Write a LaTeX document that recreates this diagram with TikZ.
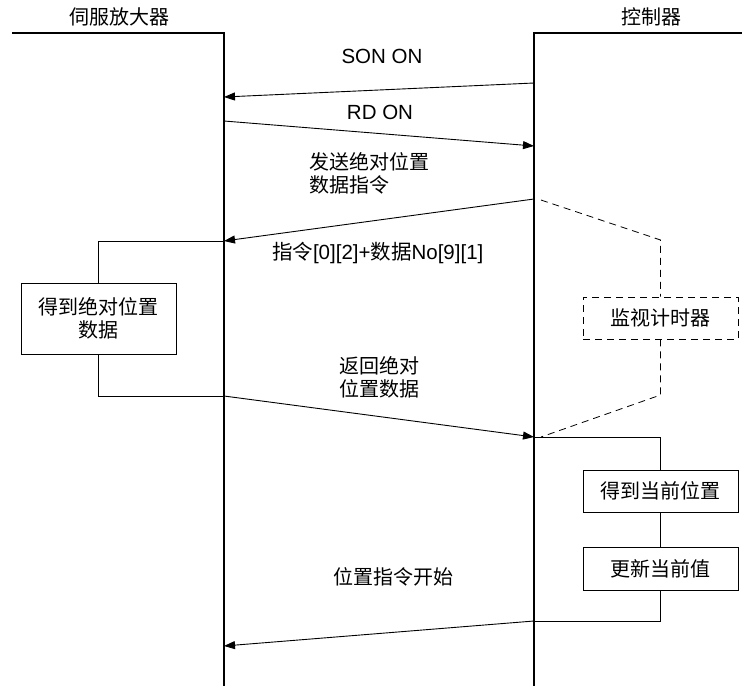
\documentclass[tikz,border=0pt]{standalone}
\usepackage{fontspec}
\setmainfont{Liberation Sans}
\newfontfamily\cjk{Noto Sans CJK SC}
\usetikzlibrary{arrows.meta}

\begin{document}
\begin{tikzpicture}[x=1pt,y=-1pt,
    every node/.style={font=\fontsize{20.5}{23}\selectfont},
    cn/.style={font=\cjk\fontsize{20}{22.5}\selectfont},
    life/.style={line width=1.1pt},
    msg/.style={line width=0.9pt, -{Triangle[length=11pt,width=8pt]}},
    stepbox/.style={draw, line width=1pt, cn, align=center, minimum width=155pt},
    watch/.style={line width=0.8pt, dash pattern=on 7pt off 5pt}]
    \useasboundingbox (0,0) rectangle (742,686);

    % lifelines
    \node[cn] (servo) at (119,17) {伺服放大器};
    \node[cn] (ctrl) at (651,17) {控制器};
    \draw[life] (12,33) -- (224,33) -- (224,686);
    \draw[life] (742,33) -- (534,33) -- (534,686);

    \coordinate (c1) at (534,83);  \coordinate (s1) at (224,97);
    \coordinate (s2) at (224,121); \coordinate (c2) at (534,146);
    \coordinate (c3) at (534,199); \coordinate (s3) at (224,241);
    \coordinate (s4) at (224,396); \coordinate (c4) at (534,437);
    \coordinate (c5) at (534,621); \coordinate (s5) at (224,646);

    % messages
    \draw[msg] (c1) -- (s1);
    \node (son) at (382,56) {SON ON};
    \draw[msg] (s2) -- (c2);
    \node (rdon) at (380,112) {RD ON};
    \draw[msg] (c3) -- (s3);
    \node[cn, align=left, anchor=west] (req) at (305.5,173.5) {发送绝对位置\\数据指令};
    \node[anchor=west] (cmd) at (268.5,253) {{\cjk 指令}[0][2]+{\cjk 数据}No[9][1]};
    \draw[msg] (s4) -- (c4);
    \node[cn, align=center] (ret) at (379,377.5) {返回绝对\\位置数据};
    \draw[msg] (c5) -- (s5);
    \node[cn] (start) at (393,577) {位置指令开始};

    % servo side
    \node[stepbox, minimum height=71pt] (getabs) at (98.5,318.5) {得到绝对位置\\数据};
    \draw[line width=1pt] (s3) -| (getabs.north);
    \draw[line width=1pt] (getabs.south) |- (s4);

    % controller side
    \node[stepbox, minimum height=42pt] (getpos) at (660.5,491) {得到当前位置};
    \node[stepbox, minimum height=43pt] (update) at (660.5,568.5) {更新当前值};
    \draw[line width=1pt] (c4) -| (getpos.north);
    \draw[line width=1pt] (getpos.south) -- (update.north);
    \draw[line width=1pt] (update.south) |- (c5);

    % watchdog
    \node[stepbox, watch, minimum height=42pt] (timer) at (660.5,318) {监视计时器};
    \coordinate (w1) at (541,200); \coordinate (w2) at (660.5,240);
    \coordinate (w3) at (660.5,395); \coordinate (w4) at (541,437);
    \draw[watch] (w1) -- (w2) -- (timer.north);
    \draw[watch] (timer.south) -- (w3) -- (w4);
\end{tikzpicture}
\end{document}
